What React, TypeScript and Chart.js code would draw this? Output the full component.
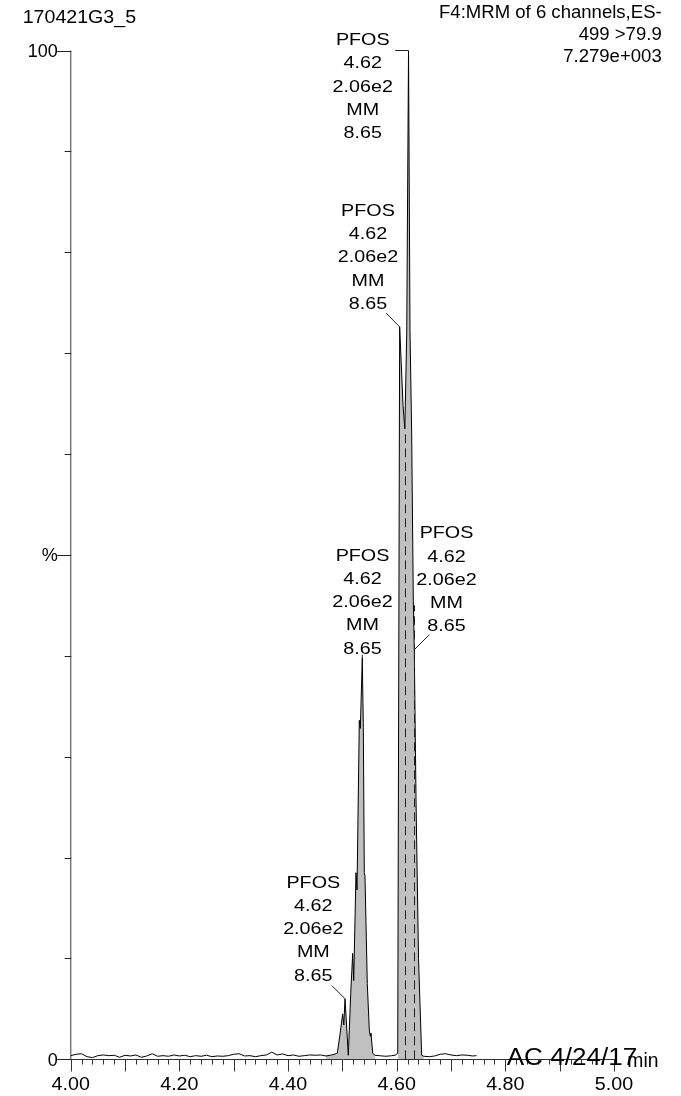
import React, { useEffect, useRef } from 'react';
import { Chart, registerables } from 'chart.js';

Chart.register(...registerables);

// ---------------- data ----------------
const traceTimes = [
  4.00, 4.01, 4.02, 4.03, 4.04, 4.05, 4.06, 4.07, 4.08, 4.09,
  4.10, 4.11, 4.12, 4.13, 4.14, 4.15, 4.16, 4.17, 4.18, 4.19,
  4.20, 4.21, 4.22, 4.23, 4.24, 4.25, 4.26, 4.27, 4.28, 4.29,
  4.30, 4.31, 4.32, 4.33, 4.34, 4.35, 4.36, 4.37, 4.38, 4.39,
  4.40, 4.41, 4.42, 4.43, 4.44, 4.45, 4.46, 4.47, 4.48,
  4.485, 4.4907, 4.4955, 4.5006, 4.5027, 4.5049, 4.511,
  4.5154, 4.519, 4.5209, 4.5251, 4.527, 4.5312, 4.5331, 4.5367, 4.5386,
  4.5404, 4.5417, 4.5459, 4.5496, 4.5514, 4.5527, 4.5559, 4.56,
  4.57, 4.58, 4.59, 4.597, 4.6019, 4.6055, 4.6117, 4.615, 4.6185, 4.6218,
  4.6245, 4.6276, 4.6306, 4.6324, 4.6356, 4.6402, 4.646, 4.65,
  4.66, 4.67, 4.68, 4.69, 4.70, 4.71, 4.72, 4.73, 4.74, 4.747,
];
const traceIntensity = [
  0.36, 0.5, 0.55, 0.26, 0.17, 0.36, 0.43, 0.36, 0.4, 0.2,
  0.4, 0.33, 0.43, 0.2, 0.33, 0.55, 0.3, 0.36, 0.3, 0.43,
  0.33, 0.4, 0.26, 0.36, 0.3, 0.4, 0.26, 0.33, 0.3, 0.36,
  0.5, 0.55, 0.33, 0.36, 0.26, 0.36, 0.43, 0.7, 0.43, 0.53,
  0.36, 0.43, 0.3, 0.36, 0.43, 0.4, 0.43, 0.33, 0.43,
  0.5, 0.6, 2.4, 4.5, 3.4, 6.0, 0.4,
  6.5, 10.5, 7.8, 18.5, 16.8, 33.6, 32.8, 39.8, 32.9,
  18.5, 18.1, 7.5, 2.9, 2.3, 2.6, 0.6, 0.4,
  0.35, 0.3, 0.35, 0.4, 0.6, 72.6, 64.8, 62.5, 72.0, 100,
  72.3, 62.0, 45.5, 40.6, 25.7, 10.0, 0.4, 0.3,
  0.26, 0.33, 0.5, 0.55, 0.43, 0.36, 0.43, 0.4, 0.33, 0.36,
];
const integrationWindows = [
  [4.47, 4.56],
  [4.6, 4.65],
];
const dashTimes = [4.6155, 4.631];
const dashTops = [62, 45];

const peakLabelLines = ['PFOS', '4.62', '2.06e2', 'MM', '8.65'];
const labelAnchorTimes = [4.6218, 4.6055, 4.6324, 4.5367, 4.5049];
const labelAnchorValues = [100, 72.6, 40.6, 39.8, 6.0];

const headerLeft = '170421G3_5';
const headerRight = ['F4:MRM of 6 channels,ES-', '499 >79.9', '7.279e+003'];
const xTickValues = [4.0, 4.2, 4.4, 4.6, 4.8, 5.0];
const xTickLabels = ['4.00', '4.20', '4.40', '4.60', '4.80', '5.00'];
const yTickValues = [0, 50, 100];
const yTickLabels = ['0', '%', '100'];
const footerText = 'AC 4/24/17';
const unitText = 'min';

// ---------------- layout / style ----------------
const FONT = '"Liberation Sans", Arial, Helvetica, sans-serif';
const LABEL_LAYOUT = [
  { dx: -45.8, dyLast: 81.2, lx: -13.3, ly: 0 },
  { dx: -31.7, dyLast: -24.3, lx: -13.4, ly: -13.7 },
  { dx: 32.2, dyLast: -25, lx: 15, ly: -15 },
  { dx: 0.2, dyLast: -10.3, lx: 0, ly: -3 },
  { dx: -31.7, dyLast: -24.3, lx: -13.3, ly: -13.3 },
];
const LINE_GAP = 23.1;

function txt(ctx: CanvasRenderingContext2D, s: string, x: number, y: number, align: CanvasTextAlign, size: number, sx: number) {
  ctx.save();
  ctx.font = `${size}px ${FONT}`;
  ctx.textAlign = align;
  ctx.textBaseline = 'alphabetic';
  ctx.fillStyle = '#000';
  ctx.translate(x, y);
  ctx.scale(sx, 1);
  ctx.fillText(s, 0, 0);
  ctx.restore();
}

const axesPlugin = {
  id: 'msAxes',
  beforeDatasetsDraw(chart: any) {
    const ctx: CanvasRenderingContext2D = chart.ctx;
    const xs = chart.scales.x;
    const ys = chart.scales.y;
    const y0 = ys.getPixelForValue(0);
    const x0 = xs.getPixelForValue(4.0);
    ctx.save();
    // y axis line
    ctx.strokeStyle = '#7a7a7a';
    ctx.lineWidth = 1.5;
    ctx.beginPath();
    ctx.moveTo(x0, ys.getPixelForValue(100));
    ctx.lineTo(x0, y0);
    ctx.stroke();
    // y ticks
    ctx.strokeStyle = '#222';
    ctx.lineWidth = 1;
    for (let v = 0; v <= 100; v += 10) {
      const py = Math.round(ys.getPixelForValue(v)) + 0.5;
      const len = v % 50 === 0 ? 13.5 : 6;
      ctx.beginPath();
      ctx.moveTo(x0 - len, py);
      ctx.lineTo(x0 + 0.5, py);
      ctx.stroke();
    }
    // x axis line
    ctx.strokeStyle = '#333';
    const ay = Math.round(y0) + 0.5;
    ctx.beginPath();
    ctx.moveTo(x0, ay);
    ctx.lineTo(xs.getPixelForValue(5.005), ay);
    ctx.stroke();
    // x ticks
    for (let i = 0; i <= 50; i++) {
      const v = 4 + i * 0.02;
      const px = Math.round(xs.getPixelForValue(v)) + 0.5;
      const len = i % 5 === 0 ? 12 : 5;
      ctx.beginPath();
      ctx.moveTo(px, ay);
      ctx.lineTo(px, ay + len);
      ctx.stroke();
    }
    ctx.restore();
  },
  afterDatasetsDraw(chart: any) {
    const ctx: CanvasRenderingContext2D = chart.ctx;
    const xs = chart.scales.x;
    const ys = chart.scales.y;
    ctx.save();
    // dashed marker lines
    ctx.strokeStyle = '#222';
    ctx.lineWidth = 1;
    ctx.setLineDash([9, 5]);
    dashTimes.forEach((t, i) => {
      const px = Math.round(xs.getPixelForValue(t)) + 0.5;
      ctx.beginPath();
      ctx.moveTo(px, ys.getPixelForValue(0));
      ctx.lineTo(px, ys.getPixelForValue(dashTops[i]));
      ctx.stroke();
    });
    ctx.setLineDash([]);
    // peak labels
    labelAnchorTimes.forEach((t, i) => {
      const ax = xs.getPixelForValue(t);
      const ayy = ys.getPixelForValue(labelAnchorValues[i]);
      const L = LABEL_LAYOUT[i];
      ctx.strokeStyle = '#222';
      ctx.lineWidth = 1;
      ctx.beginPath();
      ctx.moveTo(ax + L.lx, ayy + L.ly);
      ctx.lineTo(ax, ayy);
      ctx.stroke();
      const n = peakLabelLines.length;
      peakLabelLines.forEach((s, k) => {
        const cy = ayy + L.dyLast - (n - 1 - k) * LINE_GAP;
        txt(ctx, s, ax + L.dx, cy + 0.358 * 17, 'center', 17, 1.16);
      });
    });
    ctx.restore();
  },
  afterDraw(chart: any) {
    const ctx: CanvasRenderingContext2D = chart.ctx;
    const xs = chart.scales.x;
    const ys = chart.scales.y;
    const x0 = xs.getPixelForValue(4.0);
    // headers
    txt(ctx, headerLeft, 22.7, 22.7, 'left', 17.5, 1.12);
    const rb = [18.3, 40.3, 62.3];
    headerRight.forEach((s, i) => txt(ctx, s, 661.7, rb[i], 'right', 17.5, 1.06));
    // y labels
    yTickValues.forEach((v, i) => {
      txt(ctx, yTickLabels[i], x0 - 13, ys.getPixelForValue(v) + 6.3, 'right', 17.5, 1.03);
    });
    // x labels
    xTickValues.forEach((v, i) => {
      txt(ctx, xTickLabels[i], xs.getPixelForValue(v), 1090, 'center', 18.6, 1.06);
    });
    txt(ctx, footerText, 506.7, 1065, 'left', 23.3, 1.12);
    txt(ctx, unitText, 627.3, 1066.5, 'left', 21, 0.92);
  },
};

export default function App() {
  const ref = useRef<HTMLCanvasElement | null>(null);
  useEffect(() => {
    if (!ref.current) return;
    const points = traceTimes.map((t, i) => ({ x: t, y: traceIntensity[i] }));
    const fillSets = integrationWindows.map(([a, b]) => ({
      data: points.filter((p) => p.x >= a && p.x <= b),
      borderWidth: 0,
      borderColor: 'rgba(0,0,0,0)',
      pointRadius: 0,
      fill: 'origin',
      backgroundColor: '#c0c0c0',
      order: 2,
    }));
    const chart = new Chart(ref.current, {
      type: 'line',
      data: {
        datasets: [
          {
            data: points,
            borderColor: '#000',
            borderWidth: 1,
            pointRadius: 0,
            fill: false,
            order: 0,
          } as any,
          ...(fillSets as any[]),
        ],
      },
      options: {
        responsive: false,
        animation: false,
        events: [],
        layout: { padding: { left: 70.7, right: 67, top: 50.5, bottom: 36.7 } },
        scales: {
          x: { type: 'linear', min: 4, max: 5, display: false },
          y: { type: 'linear', min: 0, max: 100, display: false },
        },
        elements: { line: { tension: 0 } },
        plugins: { legend: { display: false }, tooltip: { enabled: false } },
      } as any,
      plugins: [axesPlugin],
    });
    return () => chart.destroy();
  }, []);
  return (
    <div style={{ position: 'absolute', left: 0, top: 0, width: 681, height: 1096, background: '#fff' }}>
      <canvas ref={ref} width={681} height={1096} style={{ display: 'block', width: 681, height: 1096 }} />
    </div>
  );
}
